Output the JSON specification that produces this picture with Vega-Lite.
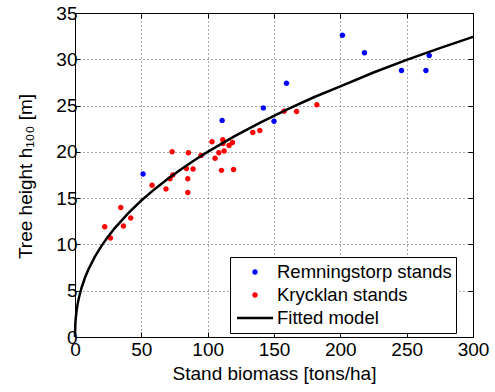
{
  "$schema": "https://vega.github.io/schema/vega-lite/v6.json",
  "width": 398,
  "height": 324,
  "autosize": {"type": "none"},
  "padding": {"left": 75, "top": 13, "right": 22, "bottom": 55},
  "background": "white",
  "config": {
    "view": {"stroke": "black", "strokeWidth": 1},
    "font": "Liberation Sans",
    "axis": {
      "labelFont": "Liberation Sans",
      "titleFont": "Liberation Sans",
      "labelFontSize": 19,
      "titleFontSize": 19,
      "titleFontWeight": "normal",
      "labelColor": "black",
      "titleColor": "black",
      "domainColor": "black",
      "tickColor": "black",
      "gridColor": "#555555",
      "gridDash": [1, 3],
      "gridOpacity": 1,
      "tickSize": -5
    }
  },
  "datasets": {
    "pts": [
      {"x": 51.3, "y": 17.6, "series": "Remningstorp stands"},
      {"x": 110.9, "y": 23.4, "series": "Remningstorp stands"},
      {"x": 142.0, "y": 24.75, "series": "Remningstorp stands"},
      {"x": 150.0, "y": 23.3, "series": "Remningstorp stands"},
      {"x": 159.4, "y": 27.4, "series": "Remningstorp stands"},
      {"x": 201.6, "y": 32.6, "series": "Remningstorp stands"},
      {"x": 218.2, "y": 30.7, "series": "Remningstorp stands"},
      {"x": 246.1, "y": 28.8, "series": "Remningstorp stands"},
      {"x": 264.5, "y": 28.8, "series": "Remningstorp stands"},
      {"x": 267.0, "y": 30.4, "series": "Remningstorp stands"},
      {"x": 22.4, "y": 11.9, "series": "Krycklan stands"},
      {"x": 26.7, "y": 10.7, "series": "Krycklan stands"},
      {"x": 34.5, "y": 14.0, "series": "Krycklan stands"},
      {"x": 36.5, "y": 12.0, "series": "Krycklan stands"},
      {"x": 42.0, "y": 12.85, "series": "Krycklan stands"},
      {"x": 58.1, "y": 16.4, "series": "Krycklan stands"},
      {"x": 68.6, "y": 16.0, "series": "Krycklan stands"},
      {"x": 71.6, "y": 17.1, "series": "Krycklan stands"},
      {"x": 73.7, "y": 17.5, "series": "Krycklan stands"},
      {"x": 73.2, "y": 20.0, "series": "Krycklan stands"},
      {"x": 84.0, "y": 18.2, "series": "Krycklan stands"},
      {"x": 85.0, "y": 17.1, "series": "Krycklan stands"},
      {"x": 85.0, "y": 15.6, "series": "Krycklan stands"},
      {"x": 85.5, "y": 19.9, "series": "Krycklan stands"},
      {"x": 89.0, "y": 18.15, "series": "Krycklan stands"},
      {"x": 95.0, "y": 19.6, "series": "Krycklan stands"},
      {"x": 103.3, "y": 21.1, "series": "Krycklan stands"},
      {"x": 105.6, "y": 19.3, "series": "Krycklan stands"},
      {"x": 108.4, "y": 19.9, "series": "Krycklan stands"},
      {"x": 110.4, "y": 18.0, "series": "Krycklan stands"},
      {"x": 111.4, "y": 21.3, "series": "Krycklan stands"},
      {"x": 111.6, "y": 20.9, "series": "Krycklan stands"},
      {"x": 112.4, "y": 20.1, "series": "Krycklan stands"},
      {"x": 116.1, "y": 20.7, "series": "Krycklan stands"},
      {"x": 118.7, "y": 21.0, "series": "Krycklan stands"},
      {"x": 119.5, "y": 18.1, "series": "Krycklan stands"},
      {"x": 134.0, "y": 22.1, "series": "Krycklan stands"},
      {"x": 139.3, "y": 22.3, "series": "Krycklan stands"},
      {"x": 157.6, "y": 24.4, "series": "Krycklan stands"},
      {"x": 167.0, "y": 24.35, "series": "Krycklan stands"},
      {"x": 182.3, "y": 25.1, "series": "Krycklan stands"}
    ],
    "fit": [
      {"x": 0, "y": 0},
      {"x": 0.25, "y": 1.43},
      {"x": 0.5, "y": 1.94},
      {"x": 1, "y": 2.64},
      {"x": 2, "y": 3.58},
      {"x": 3, "y": 4.27},
      {"x": 5, "y": 5.35},
      {"x": 7.5, "y": 6.40},
      {"x": 10, "y": 7.26},
      {"x": 15, "y": 8.68},
      {"x": 20, "y": 9.85},
      {"x": 25, "y": 10.87},
      {"x": 30, "y": 11.77},
      {"x": 40, "y": 13.36},
      {"x": 50, "y": 14.74},
      {"x": 60, "y": 15.97},
      {"x": 70, "y": 17.09},
      {"x": 80, "y": 18.13},
      {"x": 90, "y": 19.09},
      {"x": 100, "y": 20.0},
      {"x": 120, "y": 21.67},
      {"x": 140, "y": 23.19},
      {"x": 160, "y": 24.59},
      {"x": 180, "y": 25.90},
      {"x": 200, "y": 27.07},
      {"x": 225, "y": 28.57},
      {"x": 250, "y": 29.93},
      {"x": 275, "y": 31.20},
      {"x": 300, "y": 32.42}
    ]
  },
  "layer": [
    {
      "data": {"name": "pts"},
      "mark": {"type": "point", "filled": true, "size": 1296, "opacity": 1},
      "encoding": {
        "x": {
          "field": "x", "type": "quantitative",
          "scale": {"domain": [0, 300], "nice": false, "zero": false},
          "axis": {
            "orient": "bottom",
            "title": "Stand biomass [tons/ha]",
            "values": [0, 50, 100, 150, 200, 250, 300],
            "grid": true,
            "labelPadding": 8,
            "titleBaseline": "alphabetic",
            "titleY": 42,
            "labelFlush": false
          }
        },
        "y": {
          "field": "y", "type": "quantitative",
          "scale": {"domain": [0, 35], "nice": false, "zero": false},
          "axis": {
            "orient": "left",
            "title": "Tree height h₁₀₀ [m]",
            "values": [0, 5, 10, 15, 20, 25, 30, 35],
            "grid": true,
            "labelPadding": 3,
            "titleBaseline": "alphabetic",
            "titleAngle": -90,
            "titleAlign": "center",
            "titleX": -44,
            "titleY": 163,
            "labelFlush": false
          }
        },
        "color": {
          "field": "series", "type": "nominal",
          "scale": {
            "domain": ["Remningstorp stands", "Krycklan stands", "Fitted model"],
            "range": ["#0000ff", "#ff0000", "#000000"]
          },
          "legend": {
            "orient": "none",
            "legendX": 155,
            "legendY": 244,
            "title": null,
            "strokeColor": "black",
            "fillColor": "white",
            "padding": 4,
            "labelFont": "Liberation Sans",
            "labelFontSize": 18.5,
            "labelColor": "black",
            "labelLimit": 400,
            "labelOffset": 4,
            "symbolOffset": 3,
            "symbolSize": 1296,
            "symbolStrokeWidth": 0,
            "clipHeight": 22,
            "rowPadding": 1,
            "cornerRadius": 0
          }
        },
        "shape": {
          "field": "series", "type": "nominal",
          "scale": {
            "domain": ["Remningstorp stands", "Krycklan stands", "Fitted model"],
            "range": [
              "M-0.152,0A0.152,0.152 0 1,0 0.152,0A0.152,0.152 0 1,0 -0.152,0Z",
              "M-0.152,0A0.152,0.152 0 1,0 0.152,0A0.152,0.152 0 1,0 -0.152,0Z",
              "M-1,-0.07L1,-0.07L1,0.07L-1,0.07Z"
            ]
          },
          "legend": {
            "orient": "none",
            "legendX": 155,
            "legendY": 244,
            "title": null,
            "strokeColor": "black",
            "fillColor": "white",
            "padding": 4,
            "labelFont": "Liberation Sans",
            "labelFontSize": 18.5,
            "labelColor": "black",
            "labelLimit": 400,
            "labelOffset": 4,
            "symbolOffset": 3,
            "symbolSize": 1296,
            "symbolStrokeWidth": 0,
            "clipHeight": 22,
            "rowPadding": 1,
            "cornerRadius": 0
          }
        }
      }
    },
    {
      "data": {"name": "fit"},
      "mark": {"type": "line", "color": "black", "strokeWidth": 2.5},
      "encoding": {
        "x": {
          "field": "x", "type": "quantitative",
          "axis": {"orient": "top", "title": null, "labels": false, "grid": false, "values": [0, 50, 100, 150, 200, 250, 300]}
        },
        "y": {
          "field": "y", "type": "quantitative",
          "axis": {"orient": "right", "title": null, "labels": false, "grid": false, "values": [0, 5, 10, 15, 20, 25, 30, 35]}
        }
      }
    }
  ],
  "resolve": {"axis": {"x": "independent", "y": "independent"}}
}
